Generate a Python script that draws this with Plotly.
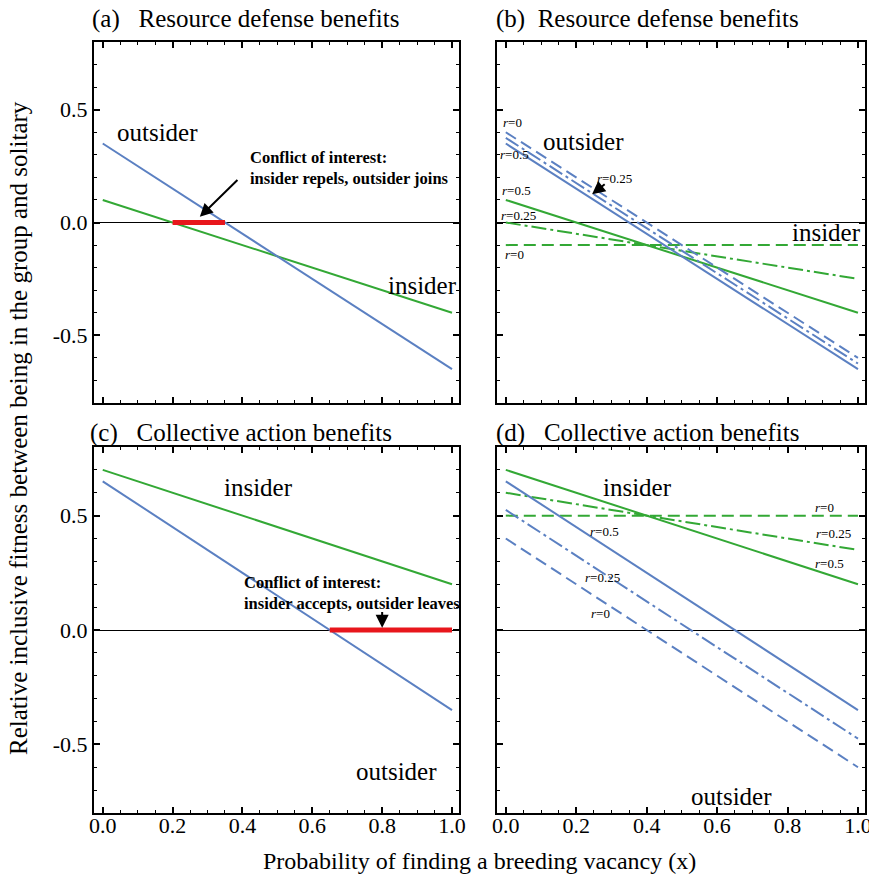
import plotly.graph_objects as go

# ---------------- data ----------------
x_vals = [0.0, 1.0]

# (a) Resource defense benefits
a_outsider = [0.35, -0.65]
a_insider = [0.10, -0.40]
a_conflict_x = [0.20, 0.35]

# (b) Resource defense benefits, by relatedness r
b_outsider_r0 = [0.40, -0.60]
b_outsider_r025 = [0.375, -0.625]
b_outsider_r05 = [0.35, -0.65]
b_insider_r0 = [-0.10, -0.10]
b_insider_r025 = [0.0, -0.25]
b_insider_r05 = [0.10, -0.40]

# (c) Collective action benefits
c_insider = [0.70, 0.20]
c_outsider = [0.65, -0.35]
c_conflict_x = [0.65, 1.0]

# (d) Collective action benefits, by relatedness r
d_insider_r0 = [0.50, 0.50]
d_insider_r025 = [0.60, 0.35]
d_insider_r05 = [0.70, 0.20]
d_outsider_r0 = [0.40, -0.60]
d_outsider_r025 = [0.525, -0.475]
d_outsider_r05 = [0.65, -0.35]

x_ticks = [0.0, 0.2, 0.4, 0.6, 0.8, 1.0]
x_ticklabels = ["0.0", "0.2", "0.4", "0.6", "0.8", "1.0"]
y_ticks = [-0.5, 0.0, 0.5]
y_ticklabels = ["-0.5", "0.0", "0.5"]

# ---------------- style ----------------
OFF = 8                      # default page body margin
W, H = 877 - OFF, 879 - OFF
BLUE = "#5b80c2"
GREEN = "#33a835"
RED = "#e8161c"
FONT = "Liberation Serif, Times New Roman, serif"
DASH = "12px,6px"
DASHDOT = "15px,4px,3px,4px"

def px_x(p):
    return (p - OFF) / W

def px_y(p):
    return 1 - (p - OFF) / H

fig = go.Figure()

panels = {
    "a": dict(xa="x", ya="y", xd=[px_x(94), px_x(459)], yd=[px_y(403), px_y(42)]),
    "b": dict(xa="x2", ya="y2", xd=[px_x(497), px_x(865)], yd=[px_y(403), px_y(42)]),
    "c": dict(xa="x3", ya="y3", xd=[px_x(94), px_x(459)], yd=[px_y(813), px_y(447)]),
    "d": dict(xa="x4", ya="y4", xd=[px_x(497), px_x(865)], yd=[px_y(813), px_y(447)]),
}

def add_line(panel, y, color, dash="solid", width=2):
    p = panels[panel]
    fig.add_trace(go.Scatter(x=x_vals, y=y, mode="lines", xaxis=p["xa"], yaxis=p["ya"],
                             line=dict(color=color, width=width, dash=dash),
                             showlegend=False, hoverinfo="skip"))

def add_conflict(panel, xs):
    p = panels[panel]
    fig.add_trace(go.Scatter(x=xs, y=[0, 0], mode="lines", xaxis=p["xa"], yaxis=p["ya"],
                             line=dict(color=RED, width=5), showlegend=False, hoverinfo="skip"))

add_line("a", a_insider, GREEN)
add_line("a", a_outsider, BLUE)
add_conflict("a", a_conflict_x)

add_line("b", b_insider_r0, GREEN, DASH)
add_line("b", b_insider_r025, GREEN, DASHDOT)
add_line("b", b_insider_r05, GREEN)
add_line("b", b_outsider_r0, BLUE, DASH)
add_line("b", b_outsider_r025, BLUE, DASHDOT)
add_line("b", b_outsider_r05, BLUE)

add_line("c", c_insider, GREEN)
add_line("c", c_outsider, BLUE)
add_conflict("c", c_conflict_x)

add_line("d", d_insider_r0, GREEN, DASH)
add_line("d", d_insider_r025, GREEN, DASHDOT)
add_line("d", d_insider_r05, GREEN)
add_line("d", d_outsider_r0, BLUE, DASH)
add_line("d", d_outsider_r025, BLUE, DASHDOT)
add_line("d", d_outsider_r05, BLUE)

layout = dict(
    template="none",
    width=W, height=H,
    margin=dict(l=0, r=0, t=0, b=0, pad=0),
    plot_bgcolor="white", paper_bgcolor="white",
    font=dict(family=FONT, size=18, color="black"),
    showlegend=False,
)

for i, (key, p) in enumerate(panels.items()):
    sfx = "" if i == 0 else str(i + 1)
    layout["xaxis" + sfx] = dict(
        domain=p["xd"], anchor=p["ya"], range=[-0.025, 1.02], automargin=False,
        tickmode="array", tickvals=x_ticks, ticktext=x_ticklabels,
        showticklabels=key in ("c", "d"), ticklabeloverflow="allow",
        ticklabelstandoff=-8,
        ticks="inside", ticklen=6, tickwidth=1.5, tickcolor="black",
        minor=dict(dtick=0.05, ticks="inside", ticklen=3, tickwidth=1, tickcolor="black"),
        showline=True, linecolor="black", linewidth=2, mirror="ticks",
        showgrid=False, zeroline=False,
        tickfont=dict(family=FONT, size=22),
    )
    layout["yaxis" + sfx] = dict(
        domain=p["yd"], anchor=p["xa"], range=[-0.8, 0.8], automargin=False,
        tickmode="array", tickvals=y_ticks, ticktext=y_ticklabels,
        showticklabels=key in ("a", "c"),
        ticks="inside", ticklen=6, tickwidth=1.5, tickcolor="black",
        minor=dict(dtick=0.1, ticks="inside", ticklen=3, tickwidth=1, tickcolor="black"),
        showline=True, linecolor="black", linewidth=2, mirror="ticks",
        showgrid=False, zeroline=True, zerolinecolor="black", zerolinewidth=1,
        tickfont=dict(family=FONT, size=22),
    )

fig.update_layout(**layout)

ann = []
BIG = 25
small = 13

def txt(panel, x, y, text, size=BIG, **kw):
    p = panels[panel]
    d = dict(x=x, y=y, xref=p["xa"], yref=p["ya"], text=text, showarrow=False,
             font=dict(family=FONT, size=size, color="black"))
    d.update(kw)
    ann.append(d)

def arrow(panel, x, y, ax, ay):
    p = panels[panel]
    ann.append(dict(x=x, y=y, ax=ax, ay=ay, xref=p["xa"], yref=p["ya"],
                    axref=p["xa"], ayref=p["ya"], text="", showarrow=True,
                    arrowhead=2, arrowsize=1.3, arrowwidth=2, arrowcolor="black"))

# Panel titles
def title(xp, yp, text):
    ann.append(dict(x=px_x(xp), y=px_y(yp), xref="paper", yref="paper", text=text,
                    showarrow=False, xanchor="left", yanchor="middle",
                    font=dict(family=FONT, size=25, color="black")))

title(90, 19, "(a)&nbsp;&nbsp;&nbsp;Resource defense benefits")
title(494, 19, "(b)&nbsp;&nbsp;Resource defense benefits")
title(88, 433, "(c)&nbsp;&nbsp;&nbsp;Collective action benefits")
title(494, 433, "(d)&nbsp;&nbsp;&nbsp;Collective action benefits")

# Panel (a)
txt("a", 0.158, 0.40, "outsider")
txt("a", 0.915, -0.28, "insider")
txt("a", 0.415, 0.24, "<b>Conflict of interest:</b><br><b>insider repels, outsider joins</b>",
    size=16.5, xanchor="left", align="left")
arrow("a", 0.278, 0.025, 0.39, 0.195)

# Panel (b)
txt("b", 0.22, 0.36, "outsider")
txt("b", 0.91, -0.045, "insider")
txt("b", 0.02, 0.445, "<i>r</i>=0", size=small)
txt("b", 0.025, 0.30, "<i>r</i>=0.5", size=small)
txt("b", 0.03, 0.14, "<i>r</i>=0.5", size=small)
txt("b", 0.035, 0.03, "<i>r</i>=0.25", size=small)
txt("b", 0.025, -0.14, "<i>r</i>=0", size=small)
txt("b", 0.31, 0.195, "<i>r</i>=0.25", size=small)
arrow("b", 0.245, 0.125, 0.285, 0.175)

# Panel (c)
txt("c", 0.445, 0.625, "insider")
txt("c", 0.84, -0.62, "outsider")
txt("c", 0.40, 0.162, "<b>Conflict of interest:</b><br><b>insider accepts, outsider leaves</b>",
    size=16.5, xanchor="left", align="left")
arrow("c", 0.80, 0.01, 0.80, 0.085)

# Panel (d)
txt("d", 0.375, 0.625, "insider")
txt("d", 0.64, -0.73, "outsider")
txt("d", 0.905, 0.535, "<i>r</i>=0", size=small)
txt("d", 0.93, 0.42, "<i>r</i>=0.25", size=small)
txt("d", 0.92, 0.29, "<i>r</i>=0.5", size=small)
txt("d", 0.28, 0.43, "<i>r</i>=0.5", size=small)
txt("d", 0.275, 0.23, "<i>r</i>=0.25", size=small)
txt("d", 0.27, 0.07, "<i>r</i>=0", size=small)

# Axis titles
ann.append(dict(x=px_x(19), y=px_y(428), xref="paper", yref="paper",
                xanchor="center", yanchor="middle",
                text="Relative inclusive fitness between being in the group and solitary",
                showarrow=False, textangle=-90,
                font=dict(family=FONT, size=25, color="black")))
ann.append(dict(x=px_x(480), y=px_y(861), xref="paper", yref="paper",
                xanchor="center", yanchor="middle",
                text="Probability of finding a breeding vacancy (x)",
                showarrow=False, font=dict(family=FONT, size=24, color="black")))

fig.update_layout(annotations=ann)

fig.write_html("out.html")
